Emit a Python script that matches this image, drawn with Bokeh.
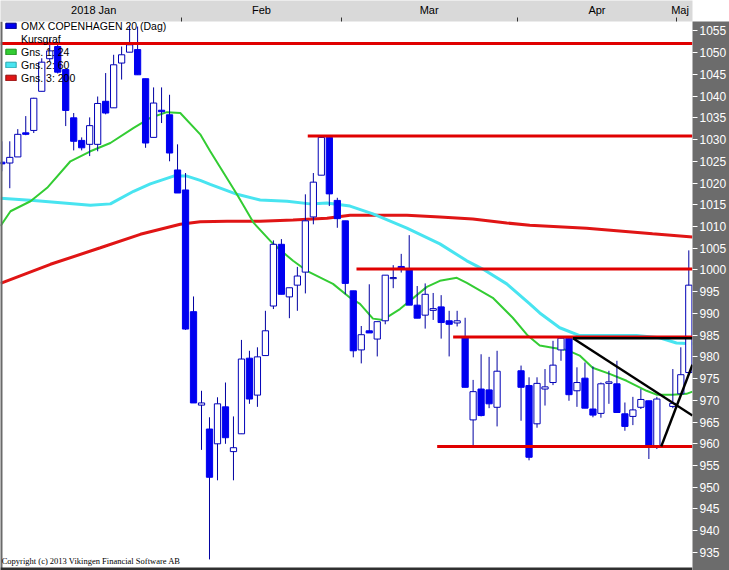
from bokeh.plotting import figure
from bokeh.models import (ColumnDataSource, Range1d, FixedTicker, Legend, LegendItem,
                          Span, Label)
from bokeh.embed import file_html
from bokeh.resources import INLINE

# ---------------- data ----------------
# trading-day slots (63, 64 and 83 are empty holiday slots)
slots = [0, 1, 2, 3, 4, 5, 6, 7, 8, 9, 10, 11, 12, 13, 14, 15, 16, 17, 18, 19, 20,
         21, 22, 23, 24, 25, 26, 27, 28, 29, 30, 31, 32, 33, 34, 35, 36, 37, 38, 39,
         40, 41, 42, 43, 44, 45, 46, 47, 48, 49, 50, 51, 52, 53, 54, 55, 56, 57, 58,
         59, 60, 61, 62, 65, 66, 67, 68, 69, 70, 71, 72, 73, 74, 75, 76, 77, 78, 79,
         80, 81, 82, 84, 85, 86]
opens = [1024.8, 1024.6, 1026.0, 1031.4, 1032.1, 1041.1, 1048.6, 1051.4, 1046.1, 1035.0,
         1029.8, 1028.9, 1028.9, 1038.8, 1037.3, 1047.6, 1050.1, 1050.7, 1044.0, 1030.5,
         1036.6, 1035.7, 1023.0, 1018.4, 990.4, 968.9, 963.4, 960.0, 968.5, 958.2,
         962.3, 979.7, 971.2, 980.3, 991.7, 1005.9, 993.8, 996.5, 999.5, 1012.2,
         1021.8, 1030.5, 1016.0, 1011.3, 995.2, 981.6, 986.0, 984.1, 988.3, 998.0,
         1000.8, 1000.2, 991.9, 989.6, 990.7, 991.5, 988.3, 987.8, 984.6, 965.5,
         972.6, 972.4, 968.4, 976.8, 973.4, 964.6, 972.6, 974.1, 981.6, 984.3,
         972.2, 975.1, 968.0, 967.0, 973.9, 973.8, 966.9, 966.3, 968.4, 969.9,
         959.4, 968.6, 971.5, 976.4]
highs = [1029.6, 1029.6, 1032.4, 1035.4, 1039.6, 1048.7, 1053.2, 1052.0, 1046.1, 1036.1,
         1030.5, 1035.1, 1039.9, 1045.3, 1049.5, 1051.4, 1056.2, 1056.0, 1044.0, 1042.0,
         1042.0, 1040.3, 1028.9, 1022.3, 993.9, 972.2, 966.1, 970.7, 974.1, 966.3,
         983.9, 981.4, 982.2, 990.6, 1006.8, 1007.1, 995.9, 1000.7, 1017.4, 1022.3,
         1030.6, 1030.8, 1016.6, 1011.3, 995.2, 987.1, 996.7, 988.1, 998.8, 1001.1,
         1003.7, 1008.0, 996.3, 996.9, 994.7, 994.2, 990.6, 990.6, 989.0, 974.7,
         980.6, 980.0, 981.4, 978.0, 975.3, 975.3, 977.2, 983.7, 984.5, 984.4,
         977.6, 978.7, 977.8, 974.1, 976.8, 979.1, 969.5, 970.8, 972.6, 969.9,
         970.8, 977.2, 982.2, 1004.5]
lows = [1022.7, 1018.8, 1026.0, 1031.0, 1031.5, 1041.1, 1048.0, 1045.2, 1033.1, 1027.5,
        1027.5, 1026.2, 1027.3, 1035.8, 1037.3, 1043.8, 1050.1, 1044.9, 1028.1, 1030.5,
        1033.8, 1025.0, 1017.7, 986.2, 969.4, 958.6, 933.4, 951.6, 960.0, 951.6,
        962.3, 969.2, 968.5, 980.3, 991.0, 994.4, 988.9, 990.6, 994.6, 1010.5,
        1021.8, 1014.7, 1009.7, 994.4, 979.9, 978.5, 985.5, 980.1, 987.5, 995.8,
        999.4, 991.9, 988.9, 986.5, 988.5, 984.2, 980.1, 987.0, 973.0, 959.2,
        966.3, 968.2, 964.0, 965.3, 956.2, 963.7, 968.8, 973.5, 979.1, 969.9,
        968.5, 968.2, 966.1, 966.0, 969.2, 967.2, 963.0, 964.3, 968.0, 956.5,
        958.8, 968.2, 971.5, 976.4]
closes = [1024.4, 1025.9, 1031.2, 1031.2, 1039.5, 1047.8, 1050.4, 1045.5, 1036.7, 1029.6,
          1028.1, 1033.2, 1038.3, 1036.1, 1047.2, 1049.5, 1051.8, 1044.9, 1029.2, 1038.4,
          1036.4, 1026.9, 1017.7, 986.4, 969.4, 969.4, 952.3, 969.2, 961.4, 959.1,
          979.5, 970.3, 980.0, 986.0, 1005.9, 994.4, 995.9, 998.6, 1011.3, 1020.2,
          1030.5, 1017.5, 1011.8, 996.9, 981.4, 985.1, 985.5, 988.1, 998.8, 998.1,
          1000.3, 991.9, 988.9, 994.4, 991.1, 987.9, 987.5, 988.3, 973.0, 972.0,
          966.5, 969.2, 976.7, 973.0, 956.9, 973.9, 973.1, 978.1, 984.3, 971.3,
          974.1, 968.2, 966.6, 973.8, 974.1, 967.2, 964.0, 967.8, 970.2, 959.4,
          970.3, 969.3, 975.9, 996.5]

# moving averages, read at points along each line (slot, value)
ma24_slots = [-0.16, 1.09, 3.59, 5.68, 8.59, 11.09, 13.59, 16.51, 18.59, 20.68, 22.34,
              24.84, 26.09, 29.43, 31.5, 33.96, 36.46, 38.18, 41.46, 43.59, 44.84,
              46.46, 47.71, 49.84, 53.21, 54.84, 56.96, 58.21, 61.46, 63.96, 65.84,
              67.34, 68.96, 70.71, 72.34, 73.96, 76.09, 78.21, 80.71, 81.96, 83.96,
              85.71, 86.46]
ma24_vals = [1010.1, 1013.5, 1015.8, 1018.9, 1025.0, 1027.3, 1029.2, 1032.7, 1035.0,
             1036.3, 1036.1, 1031.2, 1027.3, 1017.4, 1010.9, 1006.0, 1002.1, 999.8,
             996.8, 993.6, 992.2, 988.8, 988.5, 991.0, 996.1, 997.5, 998.2, 997.0,
             993.6, 989.0, 984.9, 982.6, 982.1, 981.6, 980.3, 977.5, 976.1, 974.5,
             972.2, 971.3, 971.3, 971.5, 972.0]
ma60_slots = [-0.16, 4.0, 11.09, 13.59, 16.5, 18.59, 21.5, 23.18, 24.84, 26.09, 29.46,
              32.34, 35.71, 38.59, 40.71, 43.59, 46.46, 50.71, 54.84, 58.21, 60.21,
              63.21, 66.09, 67.34, 69.84, 72.34, 75.71, 79.46, 82.34, 84.46, 86.46]
ma60_vals = [1016.5, 1016.0, 1014.9, 1015.2, 1018.1, 1019.8, 1021.6, 1021.6, 1020.6,
             1019.7, 1017.4, 1016.1, 1015.8, 1015.2, 1015.4, 1014.7, 1012.9, 1009.6,
             1006.0, 1002.1, 1000.2, 996.8, 992.2, 990.1, 986.7, 984.9, 984.9, 984.9,
             984.4, 983.2, 983.0]
ma200_slots = [-0.16, 6.09, 12.34, 17.34, 22.34, 24.84, 28.21, 32.34, 36.46, 40.71,
               43.59, 46.46, 50.71, 54.84, 58.96, 63.21, 66.09, 73.21, 81.46, 86.46]
ma200_vals = [996.9, 1001.3, 1005.1, 1008.2, 1010.5, 1011.1, 1011.2, 1011.2, 1011.5,
              1011.9, 1012.6, 1012.6, 1012.6, 1012.2, 1011.7, 1010.8, 1010.3, 1009.6,
              1008.3, 1007.6]

# horizontal support / resistance levels and the slot where each one starts
level_prices = [1052.1, 1030.8, 1000.2, 984.6, 959.4]
level_starts = [-0.16, 38.3, 44.4, 56.5, 54.5]

# drawn trend lines (slot, price) pairs
trend_x0 = [71.5, 71.5, 82.55]
trend_y0 = [984.3, 984.3, 959.4]
trend_x1 = [86.46, 86.46, 86.46]
trend_y1 = [984.3, 966.5, 978.2]

month_labels = ["2018 Jan", "Feb", "Mar", "Apr", "Maj"]
month_label_slots = [11.5, 32.5, 53.5, 74.5, 84.9]
month_bound_slots = [22.5, 42.5, 64.5, 84.5]
price_ticks = list(range(935, 1060, 5))

# ---------------- figure ----------------
X0, X1 = -0.1625, 86.4625
Y0, Y1 = 930.85, 1057.16

p = figure(width=729, height=570, output_backend="svg", toolbar_location=None,
           x_range=Range1d(X0, X1), y_range=Range1d(Y0, Y1),
           x_axis_location="above", y_axis_location="right",
           min_border_left=0, min_border_right=0, min_border_top=0, min_border_bottom=0,
           border_fill_color="white", background_fill_color="white", outline_line_color=None)
p.grid.visible = False

# top month axis
xa = p.xaxis[0]
xa.ticker = FixedTicker(ticks=month_label_slots, minor_ticks=month_bound_slots)
xa.major_label_overrides = {s: l for s, l in zip(month_label_slots, month_labels)}
xa.axis_line_color = None
xa.major_tick_line_color = None
xa.major_tick_out = 4
xa.major_tick_in = 0
xa.minor_tick_line_color = "#303030"
xa.minor_tick_out = 4
xa.minor_tick_in = 0
xa.major_label_standoff = 2
xa.major_label_text_font = "Liberation Sans"
xa.major_label_text_font_size = "11px"
xa.major_label_text_color = "black"
xa.background_fill_color = "#d9d9d9"

# right price axis
ya = p.yaxis[0]
ya.ticker = FixedTicker(ticks=price_ticks)
ya.axis_line_color = None
ya.major_tick_line_color = "white"
ya.major_tick_out = 5
ya.major_tick_in = 0
ya.minor_tick_line_color = None
ya.major_label_standoff = 2
ya.major_label_text_color = "white"
ya.major_label_text_font = "Liberation Sans"
ya.major_label_text_font_size = "12px"
ya.background_fill_color = "#6c6c6c"

# moving averages
p.line(ma200_slots, ma200_vals, line_color="#e01515", line_width=3)
p.line(ma60_slots, ma60_vals, line_color="#48e4f0", line_width=3)
p.line(ma24_slots, ma24_vals, line_color="#33cc33", line_width=2)

# candles
up = [c >= o for o, c in zip(opens, closes)]
src = ColumnDataSource(dict(
    x=slots, high=highs, low=lows,
    top=[max(o, c) + (0.15 if abs(o - c) < 0.3 else 0) for o, c in zip(opens, closes)],
    bottom=[min(o, c) for o, c in zip(opens, closes)],
    fill=["white" if u else "#0000f0" for u in up],
    line=["#0000b8" if u else "#0000f0" for u in up],
))
p.segment(x0="x", y0="low", x1="x", y1="high", source=src, line_color="#0000a0", line_width=1)
p.vbar(x="x", top="top", bottom="bottom", width=0.78, source=src,
       fill_color="fill", line_color="line", line_width=1)

# horizontal levels
p.segment(x0=level_starts, y0=level_prices, x1=[X1] * len(level_prices), y1=level_prices,
          line_color="#e00000", line_width=3)

# trend lines
p.segment(x0=trend_x0, y0=trend_y0, x1=trend_x1, y1=trend_y1,
          line_color="black", line_width=2.5)

# frame borders
p.add_layout(Span(location=X0, dimension="height", line_color="#6a6a6a", line_width=4))
p.add_layout(Span(location=Y0, dimension="width", line_color="#303030", line_width=6))

# legend (one NaN point per swatch renderer so the swatch is drawn, nothing in the plot)
nan = float("nan")
def swatch(**kw):
    return p.quad(left=[nan], right=[nan], top=[nan], bottom=[nan], **kw)

r_blue = swatch(fill_color="#0000f0", line_color="#000080")
r_none = swatch(fill_alpha=0, line_alpha=0)
r_green = swatch(fill_color="#33cc33", line_color="#1f8f1f")
r_cyan = swatch(fill_color="#48e4f0", line_color="#2aa8b0")
r_red = swatch(fill_color="#e01515", line_color="#901010")
legend = Legend(items=[
    LegendItem(label="OMX COPENHAGEN 20 (Dag)", renderers=[r_blue]),
    LegendItem(label="Kursgraf", renderers=[r_none]),
    LegendItem(label="Gns. 1: 24", renderers=[r_green]),
    LegendItem(label="Gns. 2: 60", renderers=[r_cyan]),
    LegendItem(label="Gns. 3: 200", renderers=[r_red]),
], location=(4, 486), margin=0, padding=0, spacing=0, glyph_width=13, glyph_height=7,
    label_standoff=4, label_height=13, label_text_font="Liberation Sans",
    label_text_font_size="10.5px", label_text_color="black",
    background_fill_alpha=0, border_line_alpha=0)
p.add_layout(legend)

p.add_layout(Label(x=X0 + 0.15, y=933.0, text="Copyright (c) 2013 Vikingen Financial Software AB",
                   text_font="Liberation Serif", text_font_size="8.5px",
                   text_baseline="middle", text_color="black"))

open("out.html", "w").write(file_html(p, INLINE))
